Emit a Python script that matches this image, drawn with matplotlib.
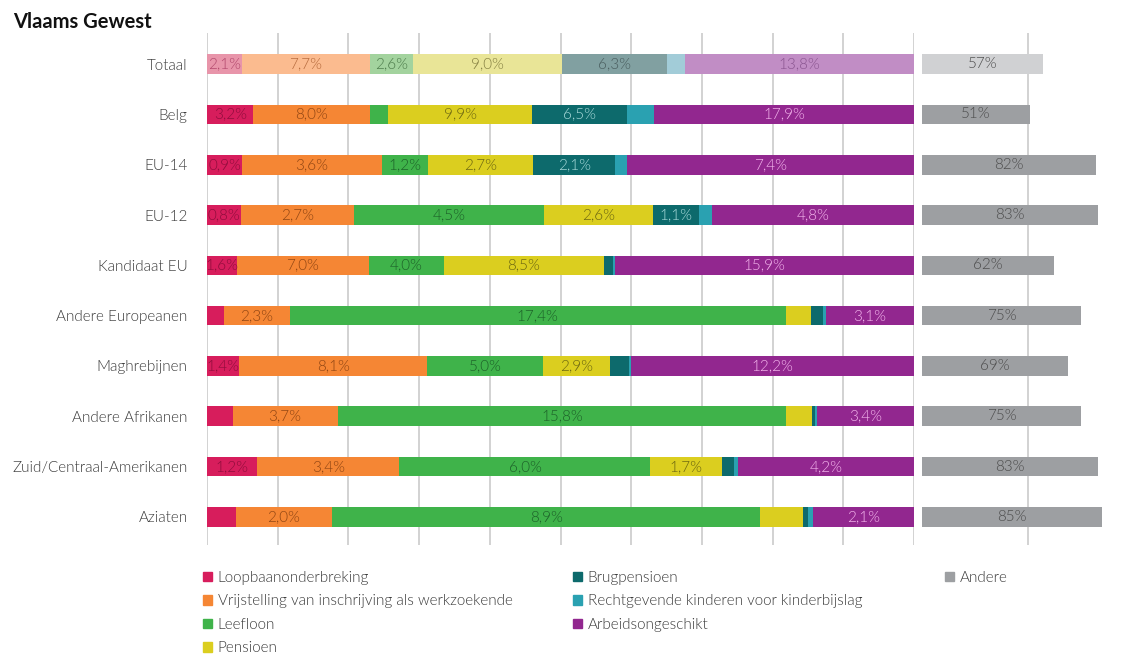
import numpy as np
import matplotlib.pyplot as plt
from matplotlib.patches import Patch

plt.rcParams['font.family'] = ['Lato', 'DejaVu Sans']

# rows (top to bottom)
categories = ['Totaal', 'Belg', 'EU-14', 'EU-12', 'Kandidaat EU',
              'Andere Europeanen', 'Maghrebijnen', 'Andere Afrikanen',
              'Zuid/Centraal-Amerikanen', 'Aziaten']

# percentages per series (same order as categories)
loopbaan = [2.1, 3.2, 0.9, 0.8, 1.6, 0.6, 1.4, 0.9, 1.2, 0.6]
vrijstelling = [7.7, 8.0, 3.6, 2.7, 7.0, 2.3, 8.1, 3.7, 3.4, 2.0]
leefloon = [2.6, 1.3, 1.2, 4.5, 4.0, 17.4, 5.0, 15.8, 6.0, 8.9]
pensioen = [9.0, 9.9, 2.7, 2.6, 8.5, 0.9, 2.9, 0.9, 1.7, 0.9]
brugpensioen = [6.3, 6.5, 2.1, 1.1, 0.5, 0.4, 0.8, 0.1, 0.3, 0.1]
kinderbijslag = [1.1, 1.9, 0.3, 0.3, 0.1, 0.1, 0.1, 0.1, 0.1, 0.1]
arbeidsongeschikt = [13.8, 17.9, 7.4, 4.8, 15.9, 3.1, 12.2, 3.4, 4.2, 2.1]
andere = [57, 51, 82, 83, 62, 75, 69, 75, 83, 85]

series_names = ['Loopbaanonderbreking',
                'Vrijstelling van inschrijving als werkzoekende',
                'Leefloon', 'Pensioen', 'Brugpensioen',
                'Rechtgevende kinderen voor kinderbijslag',
                'Arbeidsongeschikt']
series_values = [loopbaan, vrijstelling, leefloon, pensioen,
                 brugpensioen, kinderbijslag, arbeidsongeschikt]

# segments that carry no value label in the original
never_labeled = ['Rechtgevende kinderen voor kinderbijslag']
unlabeled = {
    'Belg': ['Leefloon'],
    'Kandidaat EU': ['Brugpensioen'],
    'Andere Europeanen': ['Loopbaanonderbreking', 'Pensioen', 'Brugpensioen'],
    'Maghrebijnen': ['Brugpensioen'],
    'Andere Afrikanen': ['Loopbaanonderbreking', 'Pensioen', 'Brugpensioen'],
    'Zuid/Centraal-Amerikanen': ['Brugpensioen'],
    'Aziaten': ['Loopbaanonderbreking', 'Pensioen', 'Brugpensioen'],
}

colors = ['#d71d5c', '#f58634', '#3fb34a', '#dbce1f', '#0d6a6c',
          '#2aa1b1', '#92278f']
text_colors = ['#8e0d3c', '#8f4513', '#1d6129', '#6b6611', '#a9dada',
               '#e8f4f6', '#f3b5ec']
totaal_colors = ['#e895aa', '#fbbb8f', '#a3d39e', '#e9e597', '#81a0a1',
                 '#a2ccd8', '#c18dc5']
totaal_text = ['#b2476c', '#b66a3c', '#4d7c4b', '#858042', '#4a5e5f',
               '#5c7f88', '#8a5590']
andere_color = '#9d9fa2'
andere_totaal = '#d0d1d3'

fig = plt.figure(figsize=(11.3, 6.55), dpi=100)
W, H = 1130, 655
ax = fig.add_axes([207 / W, 1 - 545 / H, 707 / W, 512 / H])
ax2 = fig.add_axes([922 / W, 1 - 545 / H, 208 / W, 512 / H])

y = np.arange(len(categories))
row_sum = np.sum(series_values, axis=0)
lefts = np.zeros(len(categories))
bar_h = 0.39
light = 300
label_font = dict(fontsize=11, fontweight=light, va='center', ha='center')

for s, (name, vals) in enumerate(zip(series_names, series_values)):
    vals = np.array(vals)
    widths = vals / row_sum * 100
    cols = [totaal_colors[s]] + [colors[s]] * (len(categories) - 1)
    ax.barh(y, widths, left=lefts, height=bar_h, color=cols, zorder=2)
    for i, cat in enumerate(categories):
        if name in never_labeled or name in unlabeled.get(cat, []):
            continue
        tc = totaal_text[s] if i == 0 else text_colors[s]
        txt = ('%.1f%%' % vals[i]).replace('.', ',')
        ax.text(lefts[i] + widths[i] / 2, y[i], txt, color=tc, **label_font)
    lefts += widths

ax.set_xlim(0, 100)
ax.set_ylim(len(categories) - 0.44, -0.62)
ax.set_xticks(np.arange(0, 101, 10))
ax.grid(axis='x', color='#cfcfcf', linewidth=1.3, zorder=0)
ax.set_axisbelow(True)
ax.set_yticks(y)
ax.set_yticklabels(categories, fontsize=11, fontweight=light, color='#3a3a3a')
ax.tick_params(length=0, pad=14)
ax.tick_params(axis='x', labelbottom=False)
for sp in ax.spines.values():
    sp.set_visible(False)

and_cols = [andere_totaal] + [andere_color] * (len(categories) - 1)
ax2.barh(y, andere, height=bar_h, color=and_cols, zorder=2)
for i, v in enumerate(andere):
    ax2.text(v / 2, y[i], '%d%%' % v, color='#4d4d4d', **label_font)
ax2.set_xlim(0, 98)
ax2.set_ylim(ax.get_ylim())
ax2.set_xticks([50])
ax2.grid(axis='x', color='#cfcfcf', linewidth=1.3, zorder=0)
ax2.set_axisbelow(True)
ax2.set_yticks([])
ax2.tick_params(length=0, labelbottom=False)
for sp in ax2.spines.values():
    sp.set_visible(False)

fig.text(13 / W, 1 - 22 / H, 'Vlaams Gewest', fontsize=14.5,
         fontweight='bold', va='center', ha='left', color='#111111')

# legend in three columns
handles = [Patch(color=c) for c in colors] + [Patch(color=andere_color)]
names = series_names + ['Andere']
groups = [([0, 1, 2, 3], 203), ([4, 5, 6], 573), ([7], 945)]
for idx, xpix in groups:
    leg = fig.legend([handles[k] for k in idx], [names[k] for k in idx],
                     loc='upper left', bbox_to_anchor=(xpix / W, 1 - 571 / H),
                     frameon=False, fontsize=11, handlelength=0.6,
                     handleheight=0.6, handletextpad=0.35, labelspacing=0.62,
                     borderpad=0, borderaxespad=0)
    for t in leg.get_texts():
        t.set_color('#3a3a3a')
        t.set_fontweight(light)

fig.savefig('out.png', dpi=100, facecolor='white')
